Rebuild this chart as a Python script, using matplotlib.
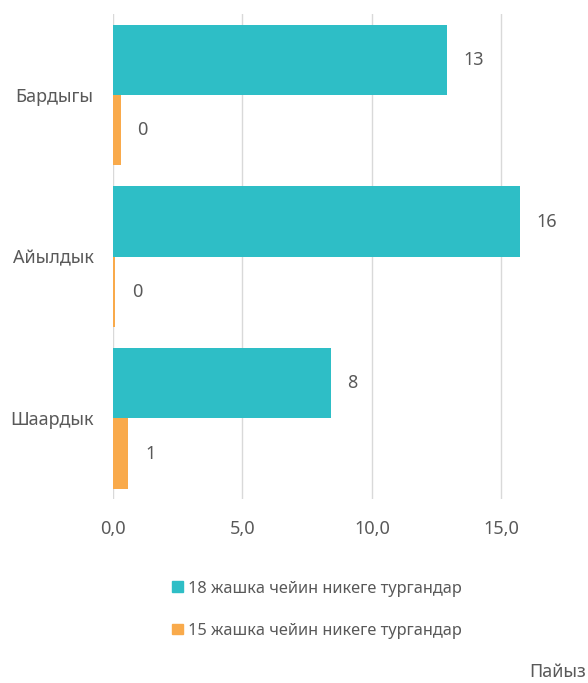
import matplotlib
matplotlib.use("Agg")
import matplotlib.pyplot as plt
from matplotlib.patches import Patch
import numpy as np

plt.rcParams['font.family'] = ['Noto Sans', 'DejaVu Sans']

categories = ['Бардыгы', 'Айылдык', 'Шаардык']
under_18 = [12.9, 15.7, 8.4]
under_15 = [0.3, 0.1, 0.6]
series_names = ['18 жашка чейин никеге тургандар', '15 жашка чейин никеге тургандар']
x_ticks = [0, 5, 10, 15]

teal = '#2EBEC6'
orange = '#F9AA4B'
gray = '#595959'

fig = plt.figure(figsize=(5.88, 6.83), dpi=100)
ax = fig.add_axes([0.192, 0.269, 0.808, 0.710])

y = np.arange(len(categories))[::-1]
h = 0.435
b1 = ax.barh(y + h / 2, under_18, height=h, color=teal)
b2 = ax.barh(y - h / 2, under_15, height=h, color=orange)

ax.bar_label(b1, labels=[f'{v:.0f}' for v in under_18], padding=12, color=gray, fontsize=13)
ax.bar_label(b2, labels=[f'{v:.0f}' for v in under_15], padding=12, color=gray, fontsize=13)

ax.set_xlim(0, 18.34)
ax.set_ylim(-0.5, 2.5)
ax.set_xticks(x_ticks)
ax.set_xticklabels([f'{t:.1f}'.replace('.', ',') for t in x_ticks])
ax.set_yticks(y)
ax.set_yticklabels(categories)
ax.tick_params(axis='both', length=0, colors=gray, labelsize=13)
ax.tick_params(axis='x', pad=15)
ax.tick_params(axis='y', pad=14)
ax.grid(axis='x', color='#D9D9D9', linewidth=1)
ax.set_axisbelow(True)
for s in ax.spines.values():
    s.set_visible(False)

handles = [Patch(color=teal), Patch(color=orange)]
fig.legend(handles, series_names, loc='upper left', bbox_to_anchor=(0.279, 0.162),
           frameon=False, fontsize=11.8, handlelength=0.65, handleheight=0.65,
           handletextpad=0.3, labelspacing=1.6, borderpad=0, labelcolor=gray)

fig.text(0.997, 0.016, 'Пайыз', ha='right', va='center', color=gray, fontsize=13)

fig.savefig('out.png', dpi=100)
